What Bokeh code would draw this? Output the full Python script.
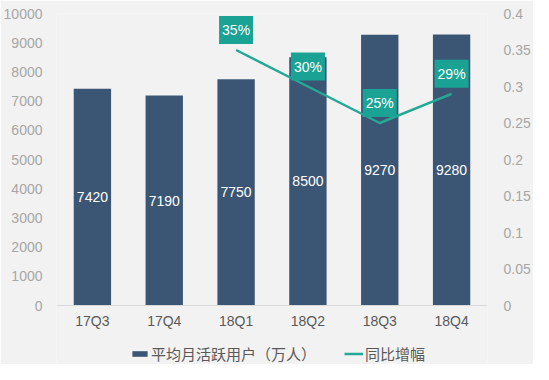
from bokeh.plotting import figure
from bokeh.models import (ColumnDataSource, FactorRange, Range1d, LinearAxis, FixedTicker,
                          NumeralTickFormatter, LabelSet, Legend, LegendItem, Span)
from bokeh.core.properties import value
from bokeh.embed import file_html
from bokeh.resources import INLINE

quarters = ["17Q3", "17Q4", "18Q1", "18Q2", "18Q3", "18Q4"]
mau = [7420, 7190, 7750, 8500, 9270, 9280]
growth_quarters = ["18Q1", "18Q2", "18Q3", "18Q4"]
growth = [0.35, 0.30, 0.25, 0.29]
growth_labels = ["35%", "30%", "25%", "29%"]
left_ticks = [0, 1000, 2000, 3000, 4000, 5000, 6000, 7000, 8000, 9000, 10000]
right_ticks = [0, 0.05, 0.1, 0.15, 0.2, 0.25, 0.3, 0.35, 0.4]
left_max = 10000
right_max = 0.4

BG = "#f2f2f2"
BAR = "#3b5674"
TEAL = "#1aa394"
LINE = "#25a896"
TICK = "#a6a6a6"
TEXT = "#595959"
NUM_FONT = "Liberation Sans"
CJK_FONT = "Noto Sans CJK SC"

# frame extends below the value axis zero to hold category labels and legend
TOP_PX = 13
PLOT_PX = 292   # pixels from 0 to max
EXTRA_PX = 364 - TOP_PX - PLOT_PX   # pixels below zero
left_min = -left_max * EXTRA_PX / PLOT_PX
right_min = -right_max * EXTRA_PX / PLOT_PX

p = figure(x_range=FactorRange(*quarters), y_range=Range1d(left_min, left_max),
           width=533, height=364, output_backend="svg", toolbar_location=None,
           x_axis_location=None,
           min_border_left=53, min_border_right=38, min_border_top=TOP_PX, min_border_bottom=0)
p.extra_y_ranges = {"pct": Range1d(right_min, right_max)}
p.background_fill_color = BG
p.border_fill_color = BG
p.outline_line_color = None
p.xgrid.grid_line_color = None
p.ygrid.grid_line_color = None

p.add_layout(Span(location=0, dimension="width", line_color="#d9d9d9", line_width=1))

bar_src = ColumnDataSource(dict(q=quarters, v=mau, zero=[0] * len(mau),
                                mid=[v / 2 for v in mau], lab=[str(v) for v in mau]))
bars = p.vbar(x="q", top="v", width=0.52, source=bar_src, fill_color=BAR, line_color=None)
p.add_layout(LabelSet(x="q", y="mid", text="lab", source=bar_src, text_color="white",
                      text_font=value(NUM_FONT), text_font_size="14px", text_align="center",
                      text_baseline="middle"))

# category labels under the baseline
p.text(x="q", y="zero", text="q", source=bar_src, y_offset=15,
       text_color=TEXT, text_font=value(NUM_FONT), text_font_size="14px",
       text_align="center", text_baseline="middle")

g_src = ColumnDataSource(dict(q=growth_quarters, g=growth, lab=growth_labels))
ln = p.line(x="q", y="g", source=g_src, y_range_name="pct", line_color=LINE, line_width=2.5)
p.text(x="q", y="g", text="lab", source=g_src, y_range_name="pct", y_offset=-20,
       text_color="white", text_font=value(NUM_FONT), text_font_size="14px",
       text_align="center", text_baseline="middle",
       background_fill_color=TEAL, padding=[3, 6])

ya = p.yaxis[0]
ya.ticker = FixedTicker(ticks=left_ticks)
ya.axis_line_color = None
ya.major_tick_line_color = None
ya.minor_tick_line_color = None
ya.major_label_text_font = NUM_FONT
ya.major_label_text_font_size = "14px"
ya.major_label_text_color = TICK
ya.major_label_standoff = 8

ra = LinearAxis(y_range_name="pct", ticker=FixedTicker(ticks=right_ticks),
                formatter=NumeralTickFormatter(format="0.[00]"))
ra.axis_line_color = None
ra.major_tick_line_color = None
ra.minor_tick_line_color = None
ra.major_label_text_font = NUM_FONT
ra.major_label_text_font_size = "14px"
ra.major_label_text_color = TICK
ra.major_label_standoff = 10
p.add_layout(ra, "right")

legend = Legend(items=[LegendItem(label="平均月活跃用户（万人）", renderers=[bars]),
                       LegendItem(label="同比增幅", renderers=[ln])],
                orientation="horizontal", location=(74, 0),
                background_fill_alpha=0, border_line_color=None,
                label_text_font=CJK_FONT, label_text_font_size="15px", label_text_color=TEXT,
                glyph_width=19, glyph_height=7, label_standoff=2, spacing=28,
                padding=0, margin=0)
p.add_layout(legend, "center")

open("out.html", "w").write(file_html(p, INLINE))
